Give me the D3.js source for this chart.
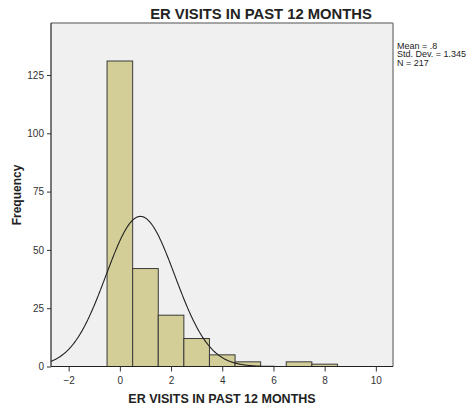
<!DOCTYPE html>
<html><head><meta charset="utf-8">
<script src="https://cdn.jsdelivr.net/npm/d3@7"></script>
<style>body{margin:0;background:#fff;} text{font-family:Arial,"Liberation Sans",sans-serif;}</style>
</head><body>
<svg id="c" width="469" height="410"></svg>
<script>
const binStarts = [-0.5,0.5,1.5,2.5,3.5,4.5,5.5,6.5,7.5];
const binCounts = [131,42,22,12,5,2,0,2,1];
const xTicks = [-2,0,2,4,6,8,10];
const yTicks = [0,25,50,75,100,125];
const stats = ["Mean = .8","Std. Dev. = 1.345","N = 217"];
const meanVal = 0.8018, sdVal = 1.345, nVal = 217;

const svg = d3.select("#c");
const L=51, R=393, T=23, B=366.5;
const x = d3.scaleLinear().domain([-2.69,10.67]).range([L,R]);
const y = d3.scaleLinear().domain([0,147.3]).range([B,T]);

svg.append("rect").attr("x",L).attr("y",T).attr("width",R-L).attr("height",B-T).attr("fill","#f0f0f0");

svg.selectAll("rect.bar").data(binStarts.map((s,i)=>({s,c:binCounts[i]})).filter(d=>d.c>0))
 .enter().append("rect").attr("class","bar")
 .attr("x",d=>x(d.s)).attr("width",d=>x(d.s+1)-x(d.s))
 .attr("y",d=>y(d.c)).attr("height",d=>y(0)-y(d.c))
 .attr("fill","#d3ce97").attr("stroke","#3a3a3a").attr("stroke-width",1);

const pts = d3.range(-2.69,10.67,0.02).map(v=>[v, nVal*Math.exp(-0.5*Math.pow((v-meanVal)/sdVal,2))/(sdVal*Math.sqrt(2*Math.PI))]);
svg.append("path").datum(pts).attr("fill","none").attr("stroke","#222").attr("stroke-width",1.1)
 .attr("d",d3.line().x(d=>x(d[0])).y(d=>y(d[1])));

// frame
svg.append("line").attr("x1",L).attr("x2",R).attr("y1",T).attr("y2",T).attr("stroke","#888").attr("stroke-width",1.5);
svg.append("line").attr("x1",R).attr("x2",R).attr("y1",T).attr("y2",B).attr("stroke","#888").attr("stroke-width",1.5);

const xa = svg.append("g").attr("transform",`translate(0,${B})`).call(d3.axisBottom(x).tickValues(xTicks).tickSize(5).tickSizeOuter(0).tickFormat(d3.format("d")));
const ya = svg.append("g").attr("transform",`translate(${L},0)`).call(d3.axisLeft(y).tickValues(yTicks).tickSize(4).tickSizeOuter(0));
[xa,ya].forEach(a=>{a.select(".domain").attr("stroke","#222").attr("stroke-width",1.2);
 a.selectAll(".tick line").attr("stroke","#333");
 a.selectAll("text").attr("font-size","10px").attr("fill","#333").attr("font-family","Arial,'Liberation Sans',sans-serif");});
xa.selectAll("text").attr("dy","0.9em");
ya.select(".domain").attr("d",`M0,${T}V${B}`);
xa.select(".domain").attr("d",`M${L},0H${R}`);

svg.append("text").attr("x",261).attr("y",19).attr("text-anchor","middle").attr("font-size","14.8px").attr("font-weight","bold").attr("fill","#222").text("ER VISITS IN PAST 12 MONTHS");
svg.append("text").attr("x",222).attr("y",403).attr("text-anchor","middle").attr("font-size","12.5px").attr("font-weight","bold").attr("fill","#222").text("ER VISITS IN PAST 12 MONTHS");
svg.append("text").attr("transform","translate(21,195) rotate(-90)").attr("text-anchor","middle").attr("font-size","12px").attr("font-weight","bold").attr("fill","#222").text("Frequency");

svg.selectAll("text.st").data(stats).enter().append("text").attr("class","st")
 .attr("x",397).attr("y",(d,i)=>48.5+i*8.7).attr("font-size","9px").attr("fill","#222").text(d=>d);
</script>
</body></html>
